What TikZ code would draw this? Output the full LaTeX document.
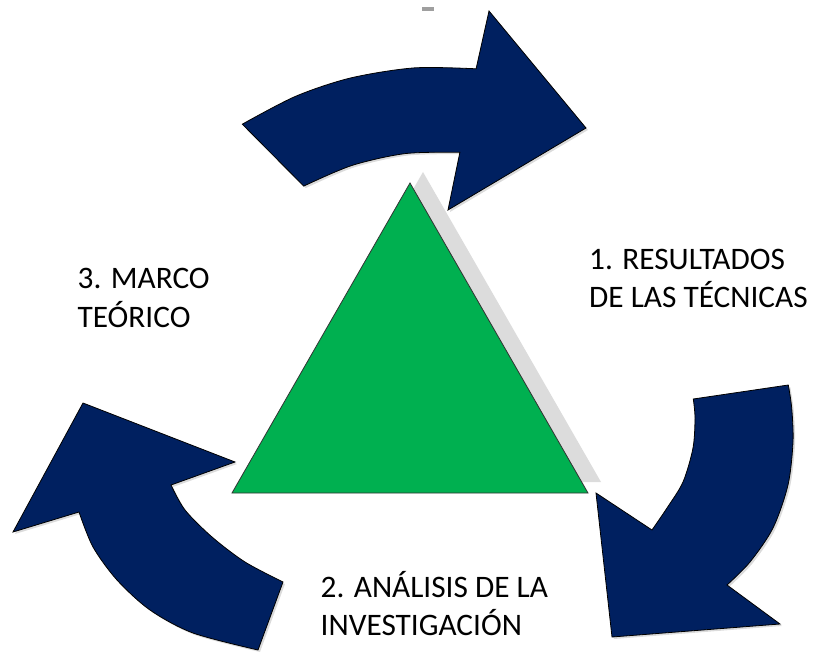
\documentclass[tikz,border=0pt]{standalone}
\usepackage{fontspec}
\setmainfont{Carlito}
\definecolor{navy}{HTML}{002060}
\definecolor{tgreen}{HTML}{00B050}
\definecolor{tshadow}{HTML}{DCDCDC}
\newcommand{\ArrTop}[1]{\path[#1] plot[smooth] coordinates {(242.3,124.2) (295.4,96.4) (350.5,78.0) (414.2,67.9) (476.1,68.8)} -- (489,11) -- (586,128) -- (448,210) -- plot[smooth] coordinates {(459.9,152.2) (405.2,153.6) (351.8,165.5) (303.7,186.1)} -- cycle;}
\newcommand{\ArrRight}[1]{\path[#1] plot[smooth] coordinates {(788.3,385) (791.7,408) (793,442) (788,485) (773,528) (750,562) (727,585)} -- (780,624) -- (612,637) -- (596,493) -- plot[smooth] coordinates {(652,530) (667,508) (683,482) (693,448) (695,418) (693.3,399)} -- cycle;}
\newcommand{\ArrLeft}[1]{\path[#1] (283,582) -- plot[smooth] coordinates {(258,650) (193,633) (150,610) (117,580) (93,547) (79,512)} -- (13,532) -- (83,403) -- (235,462) -- plot[smooth] coordinates {(171,485) (185,510) (212,537) (245,562) (283,582)} -- cycle;}
\begin{document}
\begin{tikzpicture}[x=1pt,y=-1pt,
  lbl/.style={anchor=base west,inner sep=0pt,font=\fontsize{31.3}{37}\selectfont},
  arrowbody/.style={fill=navy,draw=black,line width=0.8pt,line join=miter},
  arrowshade/.style={fill=black!40,opacity=0.35,shift={(2,2)}}]
\useasboundingbox (0,0) rectangle (819,660);
% small grey mark at the top
\fill[gray!75] (422,7.3) rectangle (434,10.7);
% triangle with its shadow
\coordinate (apex) at (410,183);
\coordinate (bl) at (232,493);
\coordinate (br) at (588,493);
\fill[tshadow] ([shift={(13,-11)}]apex) -- ([shift={(13,-11)}]bl) -- ([shift={(13,-11)}]br) -- cycle;
\draw[fill=tgreen,draw=black!80,line width=0.8pt] (apex) -- (bl) -- (br) -- cycle;
% arrows
\ArrTop{arrowshade}
\ArrTop{arrowbody}
\ArrRight{arrowshade}
\ArrRight{arrowbody}
\ArrLeft{arrowshade}
\ArrLeft{arrowbody}
% labels
\node[lbl] (t1a) at (589,270) {1. RESULTADOS};
\node[lbl] (t1b) at (589,308) {DE LAS TÉCNICAS};
\node[lbl] (t3a) at (77.5,288) {3. MARCO};
\node[lbl] (t3b) at (77.5,327) {TEÓRICO};
\node[lbl] (t2a) at (320.5,597) {2. ANÁLISIS DE LA};
\node[lbl] (t2b) at (320.5,635) {INVESTIGACIÓN};
\end{tikzpicture}
\end{document}
